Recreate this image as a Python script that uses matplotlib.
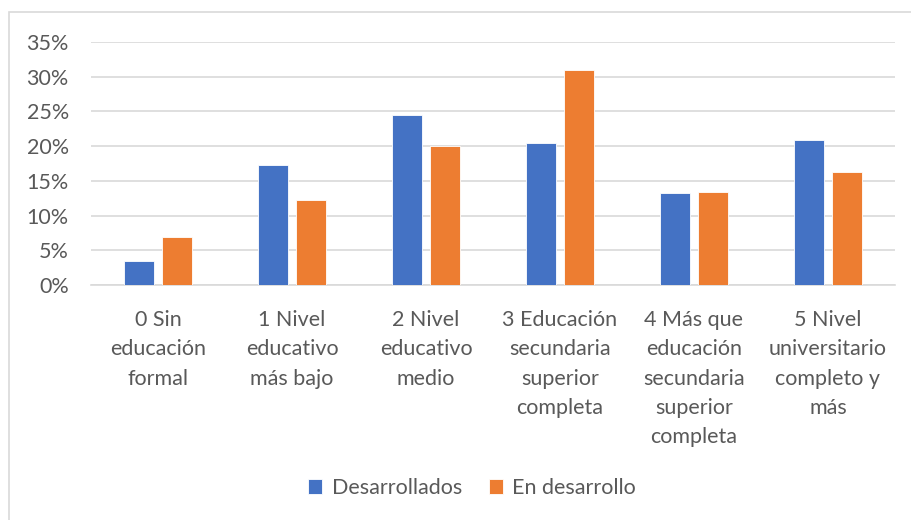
import matplotlib
matplotlib.use("Agg")
import matplotlib.pyplot as plt
import numpy as np
from matplotlib.ticker import FuncFormatter, MultipleLocator
from matplotlib.patches import Rectangle

categories = [
    "0 Sin\neducación\nformal",
    "1 Nivel\neducativo\nmás bajo",
    "2 Nivel\neducativo\nmedio",
    "3 Educación\nsecundaria\nsuperior\ncompleta",
    "4 Más que\neducación\nsecundaria\nsuperior\ncompleta",
    "5 Nivel\nuniversitario\ncompleto y\nmás",
]
desarrollados = [0.035, 0.173, 0.245, 0.204, 0.133, 0.209]
en_desarrollo = [0.069, 0.123, 0.200, 0.309, 0.134, 0.163]
series_names = ["Desarrollados", "En desarrollo"]

plt.rcParams['font.family'] = ['Lato', 'DejaVu Sans']
txt = '#595959'
fs = 15.5

fig = plt.figure(figsize=(9.12, 5.2), dpi=100)
ax = fig.add_axes([91/912, 1-285/520, (895-91)/912, (285-42)/520])

x = np.arange(len(categories))
w = 0.22
ax.bar(x - 0.143, desarrollados, w, color='#4472C4', edgecolor='white', linewidth=0.6, label=series_names[0], zorder=3)
ax.bar(x + 0.143, en_desarrollo, w, color='#ED7D31', edgecolor='white', linewidth=0.6, label=series_names[1], zorder=3)

ax.set_xlim(-0.5, len(categories) - 0.5)
ax.set_ylim(0, 0.35)
ax.yaxis.set_major_locator(MultipleLocator(0.05))
ax.yaxis.set_major_formatter(FuncFormatter(lambda v, p: f"{v*100:.0f}%"))
ax.grid(axis='y', color='#d9d9d9', linewidth=1.2, zorder=0)
for s in ['top', 'right', 'left']:
    ax.spines[s].set_visible(False)
ax.spines['bottom'].set_color('#d9d9d9')
ax.spines['bottom'].set_linewidth(1.2)
ax.tick_params(axis='both', length=0, colors=txt, labelsize=fs)
ax.tick_params(axis='y', pad=16)
ax.tick_params(axis='x', pad=18)
ax.set_xticks(x)
ax.set_xticklabels(categories, linespacing=1.58)
for t in ax.get_xticklabels():
    t.set_verticalalignment('top')

leg = fig.legend(loc='center', bbox_to_anchor=(472/912, 1-488/520), ncol=2, frameon=False,
                 fontsize=fs, handlelength=0.65, handleheight=0.65, handletextpad=0.45, columnspacing=1.25)
for t in leg.get_texts():
    t.set_color(txt)

fig.patches.append(Rectangle((9/912, -0.1), 1.2, 1 - 12/520 + 0.1, transform=fig.transFigure,
                             fill=False, edgecolor='#d9d9d9', linewidth=1.2))

fig.savefig('out.png', dpi=100)
